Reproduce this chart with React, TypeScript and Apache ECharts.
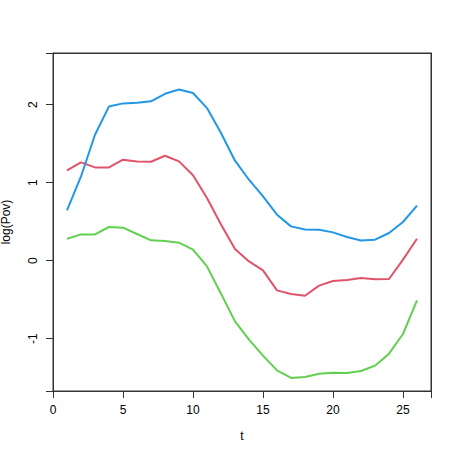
import React, { useEffect, useRef } from "react";
import * as echarts from "echarts";

const tValues = [1, 2, 3, 4, 5, 6, 7, 8, 9, 10, 11, 12, 13, 14, 15, 16, 17, 18, 19, 20, 21, 22, 23, 24, 25, 26];
const seriesBlue = [0.645, 1.08, 1.615, 1.978, 2.017, 2.026, 2.043, 2.14, 2.196, 2.15, 1.957, 1.637, 1.282, 1.038, 0.824, 0.59, 0.44, 0.4, 0.397, 0.363, 0.304, 0.26, 0.269, 0.355, 0.496, 0.705];
const seriesRed = [1.158, 1.26, 1.196, 1.196, 1.295, 1.273, 1.269, 1.346, 1.273, 1.095, 0.804, 0.465, 0.15, -0.009, -0.124, -0.381, -0.427, -0.449, -0.32, -0.26, -0.248, -0.222, -0.239, -0.235, 0.013, 0.282];
const seriesGreen = [0.282, 0.337, 0.337, 0.432, 0.423, 0.342, 0.261, 0.252, 0.231, 0.141, -0.073, -0.423, -0.778, -1.013, -1.218, -1.406, -1.504, -1.491, -1.449, -1.436, -1.44, -1.414, -1.346, -1.192, -0.94, -0.509];
const xTicks = [0, 5, 10, 15, 20, 25];
const yTicks = [-1, 0, 1, 2];
const xRange = [0, 27];
const yRange = [-1.671, 2.663];

const FONT = "'Liberation Sans', Arial, Helvetica, sans-serif";

export default function App() {
  const ref = useRef<HTMLDivElement>(null);
  useEffect(() => {
    if (!ref.current) return;
    const chart = echarts.init(ref.current, null, { renderer: "svg" });
    const mk = (vals: number[], color: string) => ({
      type: "line",
      xAxisIndex: 0,
      yAxisIndex: 0,
      data: tValues.map((t, i) => [t, vals[i]]),
      showSymbol: false,
      symbol: "none",
      lineStyle: { color, width: 2 },
      itemStyle: { color },
      z: 3,
    });
    const borderAxis = (position: string, range: number[]) => ({
      type: "value",
      position,
      min: range[0],
      max: range[1],
      axisLine: { show: true, onZero: false, lineStyle: { color: "#333", width: 1 } },
      axisTick: { show: false },
      axisLabel: { show: false },
      splitLine: { show: false },
    });
    chart.setOption({
      animation: false,
      backgroundColor: "#ffffff",
      textStyle: { fontFamily: FONT },
      grid: {
        left: 53,
        right: 27,
        top: 53,
        bottom: 67,
        outerBoundsMode: "none",
        containLabel: false,
        show: true,
        borderColor: "#333333",
        borderWidth: 1,
        backgroundColor: "transparent",
        z: 5,
      },
      xAxis: [
        {
          type: "value",
          position: "bottom",
          min: xRange[0],
          max: xRange[1],
          interval: 5,
          name: "t",
          nameLocation: "middle",
          nameGap: 39,
          nameTextStyle: { color: "#000", fontSize: 12, fontFamily: FONT },
          axisLine: { show: true, onZero: false, lineStyle: { color: "#333", width: 1 } },
          splitLine: { show: false },
          axisTick: { show: true, length: 7, lineStyle: { color: "#333", width: 1 } },
          axisLabel: { color: "#000", fontSize: 12, fontFamily: FONT, margin: 13, customValues: xTicks },
        },
        borderAxis("top", xRange),
      ],
      yAxis: [
        {
          type: "value",
          position: "left",
          min: yRange[0],
          max: yRange[1],
          splitNumber: 4,
          name: "log(Pov)",
          nameLocation: "middle",
          nameRotate: 90,
          nameGap: 41,
          nameTextStyle: { color: "#000", fontSize: 12, fontFamily: FONT },
          axisLine: { show: true, onZero: false, lineStyle: { color: "#333", width: 1 } },
          splitLine: { show: false },
          axisTick: { show: true, length: 7, lineStyle: { color: "#333", width: 1 } },
          axisLabel: { color: "#000", fontSize: 12, fontFamily: FONT, margin: 14, rotate: 90, customValues: yTicks },
        },
        borderAxis("right", yRange),
      ],
      series: [mk(seriesRed, "#DF536B"), mk(seriesGreen, "#61D04F"), mk(seriesBlue, "#2297E6")],
    });
    return () => chart.dispose();
  }, []);
  return <div ref={ref} style={{ position: "absolute", left: 0, top: 0, width: 458, height: 458 }} />;
}
